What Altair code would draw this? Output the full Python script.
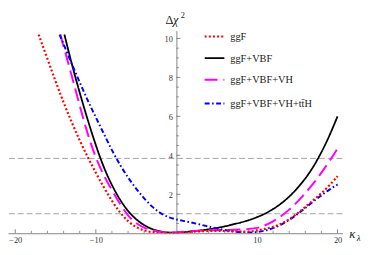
import altair as alt
import pandas as pd

# ---------------- data ----------------
series_names = ["ggF", "ggF+VBF", "ggF+VBF+VH", "ggF+VBF+VH+tt\u0304H"]
series_colors = ["#ff0000", "#000000", "#ff00ff", "#0000ff"]
series_dash = [[2, 2.2], [1, 0], [13, 6], [5, 2.5, 1.6, 2.5]]
series_width = [2.2, 1.8, 2.0, 2.0]

red_x = [-17.1, -16, -15, -14, -13, -12, -11, -10, -9, -8, -7, -6, -5, -4, -3, -2, -1, 0,
         2, 4, 6, 8, 9, 10, 11, 12, 13, 14, 15, 16, 17, 18, 19, 20]
red_y = [10.2, 8.95, 7.8, 6.7, 5.7, 4.75, 3.9, 3.1, 2.35, 1.65, 1.05, 0.6, 0.3, 0.13, 0.05, 0.02, 0.01, 0.02,
         0.08, 0.12, 0.12, 0.08, 0.08, 0.14, 0.22, 0.32, 0.47, 0.7, 1.0, 1.35, 1.7, 2.05, 2.45, 2.93]

black_x = [-13.9, -13, -12, -11, -10, -9, -8, -7, -6, -5, -4, -3, -2, -1,
           0, 1, 2, 3, 4, 5, 6, 7, 8, 9, 10, 11, 12, 13, 14, 15, 16, 17, 18, 19, 20]
black_y = [10.2, 8.7, 7.2, 5.8, 4.5, 3.35, 2.45, 1.7, 1.12, 0.7, 0.4, 0.2, 0.08, 0.03,
           0.03, 0.06, 0.1, 0.14, 0.2, 0.27, 0.35, 0.45, 0.55, 0.67, 0.82, 1.0, 1.23, 1.52, 1.87, 2.3, 2.8, 3.4, 4.15, 5.0, 6.0]

magenta_x = [-14.4, -14, -13, -12, -11, -10, -9, -8, -7, -6, -5, -4, -3, -2, -1, 0,
             2, 4, 6, 8, 10, 11, 12, 13, 14, 15, 16, 17, 18, 19, 20]
magenta_y = [10.2, 9.6, 8.1, 6.55, 5.05, 3.85, 2.95, 2.2, 1.5, 0.88, 0.5, 0.27, 0.14, 0.06, 0.03, 0.04,
             0.12, 0.16, 0.17, 0.18, 0.25, 0.4, 0.6, 0.87, 1.2, 1.6, 2.05, 2.55, 3.1, 3.7, 4.35]

blue_x = [-14.5, -14, -13, -12, -11, -10, -9, -8, -7, -6, -5, -4, -3, -2, -1,
          0, 1, 2, 3, 4, 5, 6, 7, 8, 9, 10, 11, 12, 13, 14, 15, 16, 17, 18, 19, 20]
blue_y = [10.2, 9.7, 8.7, 7.75, 6.8, 5.95, 5.1, 4.25, 3.5, 2.85, 2.28, 1.78, 1.35, 1.02, 0.82,
          0.7, 0.62, 0.54, 0.44, 0.34, 0.25, 0.16, 0.09, 0.05, 0.03, 0.05, 0.13, 0.25, 0.43, 0.68, 0.97, 1.3, 1.63, 1.95, 2.25, 2.5]

thresholds = [1.0, 3.84]
x_label_values = [-20, -10, 10, 20]
x_minor = [-18, -16, -14, -12, -8, -6, -4, -2, 2, 4, 6, 8, 12, 14, 16, 18]
y_label_values = [2, 4, 6, 8, 10]
y_minor = [v / 2 for v in range(1, 21) if v % 4 != 0]

# ---------------- layout ----------------
W, H = 340, 206
XMIN, XMAX = -20.9, 20.6
YMIN, YMAX = 0.0, 10.4
x0px = (0 - XMIN) / (XMAX - XMIN) * W
AX = "#666666"
SERIF = "Liberation Serif"

xscale = alt.Scale(domain=[XMIN, XMAX], nice=False, zero=False)
yscale = alt.Scale(domain=[YMIN, YMAX], nice=False, zero=False)
xaxis = alt.Axis(values=x_label_values, ticks=False, grid=False, domainColor=AX, domainWidth=0.8,
                 labelFont=SERIF, labelFontSize=8.5, labelColor="#333333", labelPadding=2,
                 labelFlush=False, title="")
yaxis = alt.Axis(values=y_label_values, ticks=False, grid=False, domainColor=AX, domainWidth=0.8,
                 labelFont=SERIF, labelFontSize=8.5, labelColor="#333333", labelPadding=4,
                 offset=-x0px, title="")

layers = []

# dashed reference lines
thr = pd.DataFrame({"v": thresholds})
layers.append(alt.Chart(thr).mark_rule(color="#9a9a9a", strokeDash=[6, 3], strokeWidth=0.9)
              .encode(y=alt.Y("v:Q", scale=yscale, axis=yaxis)))

# axis ticks (inward, Mathematica style)
xt_major = pd.DataFrame({"t": x_label_values})
xt_minor = pd.DataFrame({"t": x_minor})
layers.append(alt.Chart(xt_major).mark_rule(color=AX, strokeWidth=0.8)
              .encode(x=alt.X("t:Q", scale=xscale, axis=xaxis), y=alt.value(H), y2=alt.value(H - 4)))
layers.append(alt.Chart(xt_minor).mark_rule(color=AX, strokeWidth=0.7)
              .encode(x=alt.X("t:Q", scale=xscale, axis=xaxis), y=alt.value(H), y2=alt.value(H - 2.5)))
yt_major = pd.DataFrame({"t": y_label_values})
yt_minor = pd.DataFrame({"t": y_minor})
layers.append(alt.Chart(yt_major).mark_rule(color=AX, strokeWidth=0.8)
              .encode(y=alt.Y("t:Q", scale=yscale, axis=yaxis), x=alt.value(x0px), x2=alt.value(x0px + 4)))
layers.append(alt.Chart(yt_minor).mark_rule(color=AX, strokeWidth=0.7)
              .encode(y=alt.Y("t:Q", scale=yscale, axis=yaxis), x=alt.value(x0px), x2=alt.value(x0px + 2.5)))

# curves
curve_xy = [(red_x, red_y), (black_x, black_y), (magenta_x, magenta_y), (blue_x, blue_y)]
draw_order = [1, 2, 3, 0]
for i in draw_order:
    xs, ys = curve_xy[i]
    df = pd.DataFrame({"x": xs, "y": ys})
    layers.append(alt.Chart(df).mark_line(color=series_colors[i], strokeDash=series_dash[i],
                                          strokeWidth=series_width[i], interpolate="basis", clip=True)
                  .encode(x=alt.X("x:Q", scale=xscale, axis=xaxis),
                          y=alt.Y("y:Q", scale=yscale, axis=yaxis)))

# legend (drawn by hand, Mathematica style)
leg_rows = [6, 28, 50, 74]
for i, name in enumerate(series_names):
    one = pd.DataFrame({"label": [name]})
    layers.append(alt.Chart(one).mark_rule(color=series_colors[i], strokeDash=series_dash[i],
                                           strokeWidth=series_width[i])
                  .encode(x=alt.value(200), x2=alt.value(220), y=alt.value(leg_rows[i])))
    layers.append(alt.Chart(one).mark_text(font=SERIF, fontSize=10.5, align="left", baseline="middle",
                                           color="#222222")
                  .encode(text="label:N", x=alt.value(226), y=alt.value(leg_rows[i] + 0.5)))

# axis titles
def label(txt, x, y, size, style="normal", align="left"):
    d = pd.DataFrame({"s": [txt]})
    return (alt.Chart(d).mark_text(font=SERIF, fontSize=size, fontStyle=style, align=align,
                                   baseline="alphabetic", color="#222222")
            .encode(text="s:N", x=alt.value(x), y=alt.value(y)))

layers.append(label("\u0394", x0px - 11, -7, 12.5))
layers.append(label("\u03c7", x0px - 3.5, -7, 12.5, "italic"))
layers.append(label("2", x0px + 4.5, -12.5, 8.5))
layers.append(label("\u03ba", W + 7, H + 5, 13, "italic"))
layers.append(label("\u03bb", W + 14.5, H + 8, 9, "italic"))

chart = (alt.layer(*layers)
         .properties(width=W, height=H, autosize=alt.AutoSizeParams(type="none"),
                     padding={"left": 0, "top": 21, "right": 24, "bottom": 12})
         .configure_view(strokeWidth=0))

chart.save("out.html", embed_options={"renderer": "svg", "actions": False})
